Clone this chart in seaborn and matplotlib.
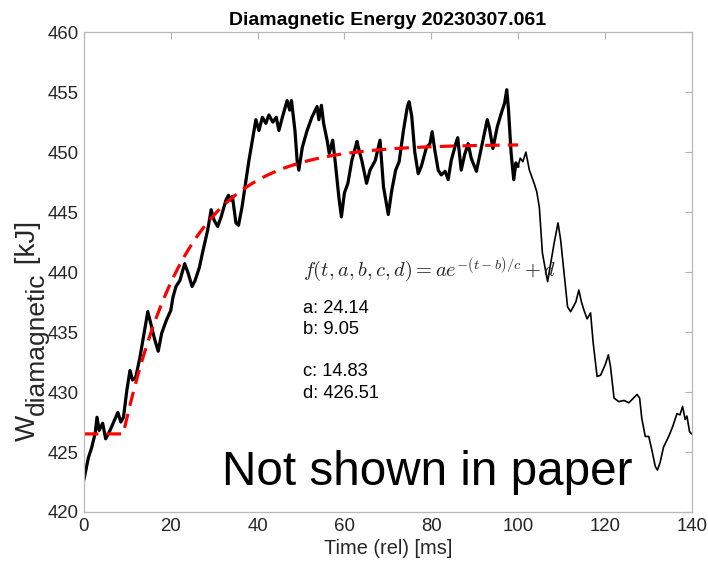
import numpy as np
import pandas as pd
import matplotlib
matplotlib.use("Agg")
import matplotlib.pyplot as plt
import seaborn as sns

# ---- data ----
t_thick = [0.0, 1.0, 1.8, 2.6, 3.0, 3.5, 4.3, 5.0, 6.0, 7.2, 7.8, 8.5, 9.1, 9.9, 10.6,
           11.2, 11.9, 12.9, 14.0, 14.7, 15.4, 16.2, 17.1, 17.9, 19.0, 20.0, 20.5, 21.2,
           22.1, 23.2, 24.0, 24.9, 25.6, 26.6, 27.3, 28.5, 29.3, 30.0, 30.8, 31.6, 32.7,
           33.3, 33.8, 34.2, 35.0, 35.6, 36.4, 37.1, 38.0, 38.8, 39.6, 40.3, 41.1, 41.9,
           42.6, 43.5, 44.3, 44.9, 45.7, 46.4, 46.8, 47.4, 47.8, 48.6, 49.1, 49.5, 50.3,
           51.4, 52.5, 52.9, 53.7, 54.1, 54.7, 55.2, 56.0, 56.5, 57.3, 57.9, 58.7, 59.3,
           60.0, 60.8, 61.7, 62.9, 63.2, 64.0, 65.1, 65.9, 67.1, 68.2, 69.0, 70.1, 70.9,
           71.8, 72.6, 73.6, 74.5, 74.9, 75.5, 76.2, 77.0, 77.7, 78.9, 79.7, 80.2, 80.8,
           81.6, 82.3, 83.2, 83.9, 84.6, 85.8, 86.1, 86.9, 87.7, 88.5, 89.2, 90.4, 91.1,
           92.1, 92.9, 93.4, 94.2, 95.2, 96.1, 96.9, 97.4, 97.8, 98.4, 99.0, 99.5, 100.0]
w_thick = [422.7, 424.5, 425.4, 426.6, 427.9, 426.8, 427.4, 426.1, 426.8, 427.8, 428.3, 427.5,
           427.9, 430.2, 431.8, 431.0, 431.2, 432.9, 435.2, 436.7, 435.7, 434.5, 433.4, 434.9,
           436.0, 436.8, 437.9, 438.8, 439.3, 440.7, 439.9, 438.8, 439.3, 440.4, 441.6, 443.5,
           445.2, 444.3, 443.8, 444.6, 446.0, 446.4, 446.0, 446.3, 444.1, 443.9, 445.4, 447.1,
           449.3, 451.0, 452.7, 451.8, 452.9, 452.4, 453.1, 452.5, 452.9, 451.8, 452.9, 453.8,
           454.3, 453.5, 454.3, 451.8, 449.3, 448.5, 450.4, 451.8, 452.9, 453.2, 453.8, 452.7,
           453.9, 452.4, 451.0, 449.9, 451.0, 449.1, 446.3, 444.6, 446.6, 447.4, 449.3, 450.9,
           450.4, 449.3, 447.4, 448.5, 449.3, 451.0, 447.1, 444.8, 446.8, 448.5, 449.2, 451.8,
           453.8, 454.2, 453.0, 450.0, 448.2, 448.8, 450.4, 450.7, 451.7, 450.2, 448.5, 448.1,
           448.4, 447.7, 449.3, 450.9, 451.2, 448.5, 449.8, 450.7, 449.5, 448.4, 449.6, 451.3,
           452.7, 452.0, 450.3, 452.1, 453.2, 454.1, 455.2, 453.5, 449.9, 447.7, 449.1, 448.8]

t_thin = [100.0, 100.5, 101.1, 101.8, 102.6, 103.3, 103.7, 104.3, 104.9, 105.6, 106.8, 108.3,
          109.2, 109.8, 110.6, 111.4, 112.1, 113.3, 114.0, 114.6, 115.2, 115.9, 116.7, 117.3,
          118.2, 119.0, 120.1, 120.8, 121.3, 122.1, 123.2, 124.4, 125.5, 126.6, 127.4, 128.0,
          128.5, 129.3, 130.1, 130.8, 131.6, 132.1, 132.7, 133.5, 134.7, 135.6, 136.6, 137.3,
          137.9, 138.5, 138.9, 139.5, 140.0]
w_thin = [448.8, 449.5, 449.2, 450.0, 448.5, 447.8, 447.4, 446.7, 445.4, 441.6, 439.2, 442.4,
          444.1, 442.7, 439.9, 437.1, 436.7, 437.5, 438.5, 437.5, 436.8, 436.1, 436.6, 434.1,
          431.3, 431.4, 432.3, 433.1, 432.1, 429.5, 429.2, 429.3, 429.1, 429.5, 429.8, 429.5,
          427.8, 426.3, 426.3, 425.2, 423.8, 423.5, 424.1, 425.4, 426.3, 427.1, 428.2, 428.1,
          428.8, 427.7, 428.0, 426.7, 426.5]

fit_params = {"a": 24.14, "b": 9.05, "c": 14.83, "d": 426.51}
fit_range = [0.0, 100.0]

x_ticks = [0, 20, 40, 60, 80, 100, 120, 140]
y_ticks = [420, 425, 430, 435, 440, 445, 450, 455, 460]

# ---- fit curve from the displayed parameters ----
a, b, c, d = fit_params["a"], fit_params["b"], fit_params["c"], fit_params["d"]
t_fit = np.linspace(fit_range[0], fit_range[1], 400)
w_fit = np.where(t_fit < b, d, d + a * (1 - np.exp(-(t_fit - b) / c)))

df_thick = pd.DataFrame({"t": t_thick, "w": w_thick})
df_thin = pd.DataFrame({"t": t_thin, "w": w_thin})
df_fit = pd.DataFrame({"t": t_fit, "w": w_fit})

sns.set_style("white")
plt.rcParams["font.family"] = ["Liberation Sans", "DejaVu Sans"]
plt.rcParams["mathtext.fontset"] = "cm"

fig = plt.figure(figsize=(7.08, 5.64), dpi=100)
ax = fig.add_axes([0.1186, 0.0922, 0.8584, 0.8508])

sns.lineplot(data=df_thick, x="t", y="w", ax=ax, color="black", lw=2.3, sort=False, estimator=None)
sns.lineplot(data=df_thin, x="t", y="w", ax=ax, color="black", lw=1.2, sort=False, estimator=None)
sns.lineplot(data=df_fit, x="t", y="w", ax=ax, color="#ff0000", lw=2.3, sort=False, estimator=None,
             dashes=False, linestyle=(0, (4.5, 2.6)))

ax.set_xlim(0, 140)
ax.set_ylim(420, 460)
ax.set_xticks(x_ticks)
ax.set_yticks(y_ticks)
ax.tick_params(direction="in", length=5, width=0.8, color="#b0b0b0", labelcolor="#262626",
               labelsize=13.4, top=True, right=True, pad=4)
for s in ax.spines.values():
    s.set_visible(True)
    s.set_color("#b8b8b8")
    s.set_linewidth(0.9)

ax.set_title("Diamagnetic Energy 20230307.061", fontsize=14.0, fontweight="bold", color="black", pad=5)
ax.set_xlabel("Time (rel) [ms]", fontsize=14.4, color="#262626", labelpad=3)
ax.set_ylabel("")

ax.text(50.4, 440.2, r"$f(t,a,b,c,d) = ae^{-(t-b)/c} + d$", fontsize=14.7, color="#262626",
        va="center", ha="left")
for lbl, yy in zip(["a", "b", "c", "d"], [437.0, 435.2, 431.7, 429.9]):
    ax.text(50.5, yy, f"{lbl}: {fit_params[lbl]:.2f}", fontsize=13.2, color="black",
            va="center", ha="left")

ax.text(31.8, 423.3, "Not shown in paper", fontsize=34.3, color="black", va="center", ha="left")
ax.grid(False)

# ---- y label built from pieces (W, subscript, unit) ----
fig.canvas.draw()
rend = fig.canvas.get_renderer()
H = fig.bbox.height
pieces = [("W", 20, 28 / 708), ("diamagnetic", 19, 37 / 708), (" [kJ]", 20, 28 / 708)]
texts = []
for s, fs, xx in pieces:
    texts.append(fig.text(xx, 0, s, fontsize=fs, rotation=90, ha="center", va="bottom",
                          color="#262626"))
lengths = [t.get_window_extent(rend).height for t in texts]
y0 = H - 441.0
for t, L in zip(texts, lengths):
    t.set_y(y0 / H)
    y0 += L

fig.savefig("out.png", dpi=100, facecolor="white")
